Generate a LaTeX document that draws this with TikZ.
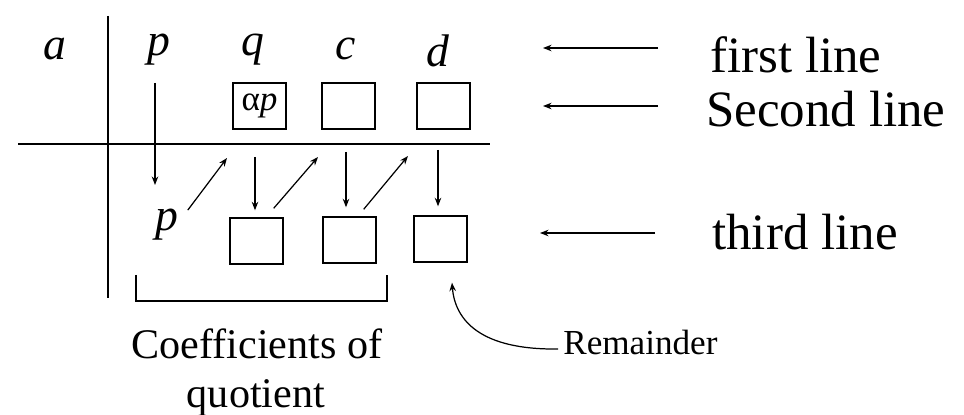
\documentclass[tikz,border=0pt]{standalone}
\usepackage{fontspec}
\setmainfont{Liberation Serif}
\usetikzlibrary{arrows.meta,calc}

\begin{document}
\begin{tikzpicture}[x=0.02cm,y=-0.02cm,
  arr/.style={-{Stealth[length=0.17cm,width=0.13cm]},line width=0.7pt},
  cell/.style={draw,line width=0.8pt,minimum width=1.06cm,minimum height=0.92cm,inner sep=0pt},
  var/.style={anchor=base,inner sep=0pt,font=\fontsize{26}{30}\selectfont\itshape},
  lbl/.style={anchor=base west,inner sep=0pt,font=\fontsize{29}{34}\selectfont}]
  \useasboundingbox (0,0) rectangle (964,415);
  \draw[line width=0.9pt] (108,16) -- (108,298);
  \draw[line width=0.9pt] (18,144) -- (490,144);
  \node[var] (a) at (55,60) {a};
  \node[var] (p1) at (159,56) {p};
  \node[var] (q) at (253,56) {q};
  \node[var] (c) at (346,60) {c};
  \node[var] (d) at (438,67) {d};
  \node[var] (p2) at (167,231) {p};
  \node[cell,font=\fontsize{20}{24}\selectfont] (ap) at (259.5,106) {α\textit{p}};
  \node[cell] (sc) at (348.5,106) {};
  \node[cell] (sd) at (443.5,106) {};
  \node[cell] (t1) at (256.5,241) {};
  \node[cell] (t2) at (349.5,240) {};
  \node[cell] (t3) at (440.5,239) {};
  \coordinate (p1s) at (155,83);
  \coordinate (p1e) at (155,185);
  \coordinate (g1) at (227,158);
  \coordinate (g2) at (318,157);
  \coordinate (g3) at (408,156);
  \draw[arr] (p1s) -- (p1e);
  \draw[arr] ($(p2.north east)+(9,1)$) -- (g1);
  \draw[arr] (255,157) -- ($(t1.north)+(-1.5,-7)$);
  \draw[arr] ($(t1.north east)+(-10,-9)$) -- (g2);
  \draw[arr] (346,152) -- ($(t2.north)+(-3.5,-9)$);
  \draw[arr] ($(t2.north east)+(-13,-7)$) -- (g3);
  \draw[arr] (438,150) -- ($(t3.north)+(-2.5,-9)$);
  \draw[line width=0.8pt] (136,275) -- (136,301) -- (387,301) -- (387,275);
  \node[anchor=base,inner sep=0pt,font=\fontsize{24}{28}\selectfont] (coef) at (257,358) {Coefficients of};
  \node[anchor=base,inner sep=0pt,font=\fontsize{24}{28}\selectfont] (quot) at (256,407) {quotient};
  \node[anchor=base west,inner sep=0pt,font=\fontsize{20}{24}\selectfont] (rem) at (563,355) {Remainder};
  \draw[arr] ($(rem.base west)+(-5,-6)$) .. controls (480,350) and (455,320) .. ($(t3.south)+(11.5,20)$);
  \node[lbl] (fl) at (710,73) {first line};
  \node[lbl] (sl) at (706,127) {Second line};
  \node[lbl] (tl) at (712,250) {third line};
  \draw[arr] ($(fl.base west)+(-52,-25)$) -- ($(fl.base west)+(-167,-25)$);
  \draw[arr] ($(sl.base west)+(-48,-21)$) -- ($(sl.base west)+(-163,-21)$);
  \draw[arr] ($(tl.base west)+(-57,-17)$) -- ($(tl.base west)+(-172,-17)$);
\end{tikzpicture}
\end{document}
